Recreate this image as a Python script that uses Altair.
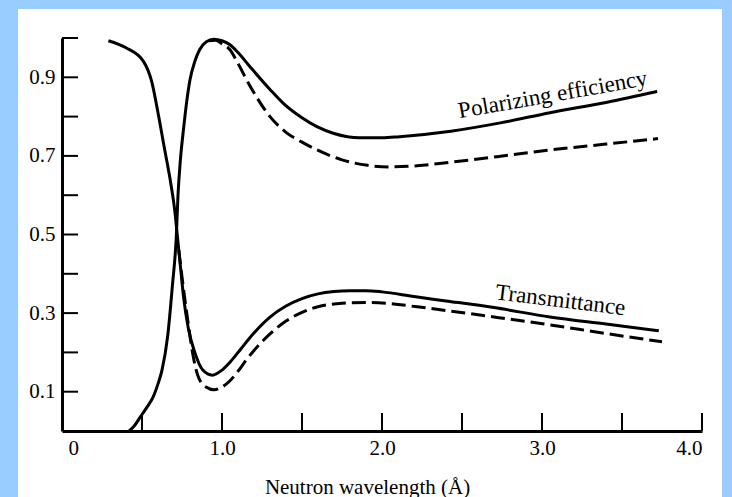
import altair as alt
import pandas as pd

# ---- data ----
trans_solid_x = [0.29, 0.40, 0.51, 0.56, 0.60, 0.64, 0.68, 0.705, 0.72, 0.74, 0.76, 0.79, 0.83, 0.88, 0.94,
                 1.00, 1.05, 1.12, 1.19, 1.30, 1.40, 1.50, 1.60, 1.70, 1.80, 1.90, 2.00, 2.20, 2.40, 2.70,
                 3.05, 3.40, 3.73]
trans_solid_y = [0.993, 0.975, 0.94, 0.89, 0.81, 0.72, 0.63, 0.56, 0.50, 0.42, 0.34, 0.26, 0.20, 0.155, 0.142,
                 0.155, 0.175, 0.21, 0.245, 0.29, 0.318, 0.337, 0.349, 0.355, 0.357, 0.357, 0.354, 0.342, 0.331, 0.314,
                 0.29, 0.272, 0.255]

trans_dash_x = [0.73, 0.76, 0.79, 0.82, 0.85, 0.90, 0.95, 1.00, 1.05, 1.10, 1.15, 1.20, 1.30, 1.40, 1.50, 1.60,
                1.75, 1.90, 2.05, 2.22, 2.43, 2.72, 3.05, 3.40, 3.75]
trans_dash_y = [0.46, 0.36, 0.27, 0.19, 0.14, 0.112, 0.105, 0.112, 0.128, 0.152, 0.18, 0.205, 0.247, 0.28, 0.302,
                0.316, 0.325, 0.327, 0.324, 0.316, 0.305, 0.289, 0.27, 0.248, 0.227]

pol_solid_x = [0.42, 0.45, 0.49, 0.53, 0.57, 0.60, 0.625, 0.66, 0.69, 0.715, 0.725, 0.74, 0.76, 0.78, 0.80,
               0.83, 0.86, 0.90, 0.95, 1.00, 1.05, 1.10, 1.175, 1.30, 1.38, 1.50, 1.59, 1.70, 1.86, 2.00,
               2.11, 2.43, 2.74, 3.05, 3.40, 3.72]
pol_solid_y = [0.0, 0.012, 0.036, 0.06, 0.087, 0.12, 0.155, 0.24, 0.37, 0.50, 0.60, 0.69, 0.77, 0.84, 0.894,
               0.94, 0.97, 0.99, 0.997, 0.993, 0.983, 0.963, 0.927, 0.869, 0.835, 0.797, 0.775, 0.757, 0.746, 0.746,
               0.749, 0.763, 0.784, 0.81, 0.836, 0.864]

pol_dash_x = [0.92, 0.96, 1.00, 1.05, 1.10, 1.175, 1.30, 1.40, 1.50, 1.59, 1.75, 1.91, 2.05, 2.22, 2.43,
              2.74, 3.05, 3.40, 3.725]
pol_dash_y = [0.993, 0.994, 0.985, 0.97, 0.935, 0.878, 0.80, 0.76, 0.735, 0.716, 0.69, 0.676, 0.672, 0.675, 0.684,
              0.699, 0.715, 0.73, 0.744]

x_tick_values = [0.5, 1.0, 1.5, 2.0, 2.5, 3.0, 3.5, 4.0]
x_label_values = [0, 1.0, 2.0, 3.0, 4.0]
y_tick_values = [0.1, 0.2, 0.3, 0.4, 0.5, 0.6, 0.7, 0.8, 0.9, 1.0]
y_label_values = [0.1, 0.3, 0.5, 0.7, 0.9]

label_texts = ["Polarizing efficiency", "Transmittance"]
label_x = [3.075, 3.11]
label_y = [0.838, 0.315]
label_angle = [350, 7]

# ---- tables ----
def frame(xs, ys, name):
    return pd.DataFrame({"x": xs, "y": ys, "series": name, "order": range(len(xs))})

solid_df = pd.concat([frame(trans_solid_x, trans_solid_y, "T"), frame(pol_solid_x, pol_solid_y, "P")])
dash_df = pd.concat([frame(trans_dash_x, trans_dash_y, "T"), frame(pol_dash_x, pol_dash_y, "P")])
xt_df = pd.DataFrame({"x": x_tick_values})
yt_df = pd.DataFrame({"y": y_tick_values})
lab_df = pd.DataFrame({"text": label_texts, "x": label_x, "y": label_y, "angle": label_angle})

W, H = 640, 393
FONT = "Liberation Serif"

xscale = alt.Scale(domain=[0, 4.0], nice=False, zero=False)
yscale = alt.Scale(domain=[0, 1.0], nice=False, zero=False)

bg = alt.Chart(alt.Data(values=[{}])).mark_rect(color="white").encode(
    x=alt.value(-44), x2=alt.value(660), y=alt.value(-29), y2=alt.value(470)
)

solid = alt.Chart(solid_df).mark_line(color="black", strokeWidth=3, interpolate="monotone").encode(
    x=alt.X("x:Q", scale=xscale,
            axis=alt.Axis(values=x_label_values,
                          labelExpr="datum.value == 0 ? '0' : format(datum.value, '.1f')",
                          title="Neutron wavelength (Å)", titleFont=FONT, titleFontSize=21,
                          titleFontWeight="normal", titleColor="black",
                          titleX=305, titleY=62, titleBaseline="alphabetic", titleAnchor="middle",
                          labelFont=FONT, labelFontSize=21, labelColor="black", labelPadding=6,
                          labelOffset={"condition": {"test": "datum.value == 0", "value": 6}, "value": 0},
                          ticks=False, tickSize=0, grid=False, zindex=2,
                          domainColor="black", domainWidth=3)),
    y=alt.Y("y:Q", scale=yscale,
            axis=alt.Axis(values=y_label_values, format=".1f", title=None,
                          labelFont=FONT, labelFontSize=21, labelColor="black", labelPadding=7,
                          ticks=False, tickSize=0, grid=False, zindex=2,
                          domainColor="black", domainWidth=3)),
    detail="series:N",
    order="order:Q",
)

dashed = alt.Chart(dash_df).mark_line(color="black", strokeWidth=3, strokeDash=[14, 6],
                                      strokeCap="butt", interpolate="monotone").encode(
    x=alt.X("x:Q", scale=xscale),
    y=alt.Y("y:Q", scale=yscale),
    detail="series:N",
    order="order:Q",
)

xticks = alt.Chart(xt_df).mark_rule(color="black", strokeWidth=2).encode(
    x=alt.X("x:Q", scale=xscale), y=alt.value(H), y2=alt.value(H - 18)
)
yticks = alt.Chart(yt_df).mark_rule(color="black", strokeWidth=2).encode(
    y=alt.Y("y:Q", scale=yscale), x=alt.value(0), x2=alt.value(16)
)

labels = alt.Chart(lab_df).mark_text(font=FONT, fontSize=23, color="black",
                                     align="center", baseline="alphabetic").encode(
    x=alt.X("x:Q", scale=xscale),
    y=alt.Y("y:Q", scale=yscale),
    text="text:N",
    angle=alt.Angle("angle:Q", scale=None),
)

chart = alt.layer(bg, solid, dashed, xticks, yticks, labels).properties(
    width=W, height=H,
    background="#99ccff",
    padding={"left": 62, "top": 38, "right": 30, "bottom": 66},
    autosize=alt.AutoSizeParams(type="none"),
).configure_view(stroke=None)

chart.save("out.html", embed_options={"renderer": "svg", "actions": False})
